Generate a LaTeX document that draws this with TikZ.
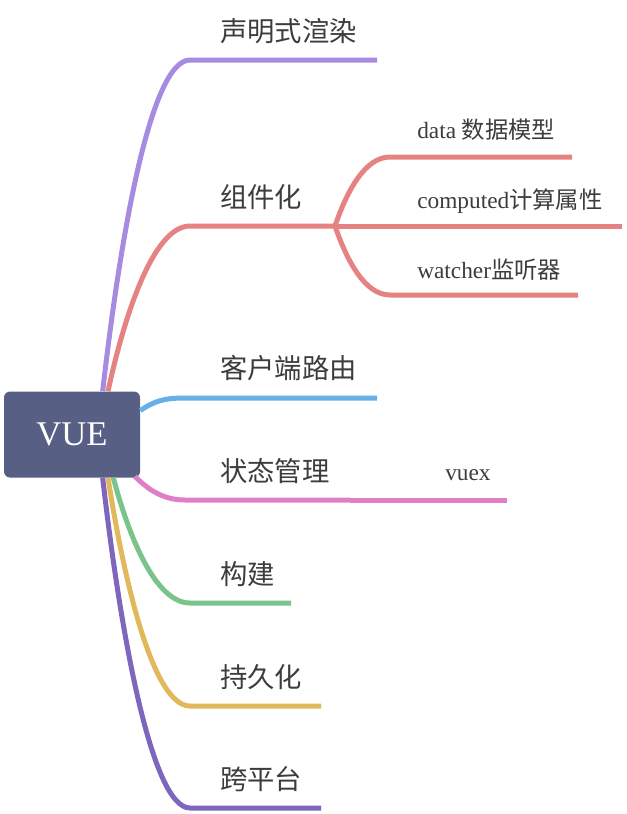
\documentclass[tikz,border=0pt]{standalone}
\usepackage{fontspec}
\setmainfont{Liberation Serif}
\newfontfamily\zh{Noto Sans CJK SC}
\definecolor{rootblue}{RGB}{88,95,132}
\definecolor{txtgray}{RGB}{60,60,60}
\definecolor{cpurple}{RGB}{167,139,224}
\definecolor{cred}{RGB}{229,130,130}
\definecolor{cblue}{RGB}{102,176,230}
\definecolor{cpink}{RGB}{222,128,200}
\definecolor{cgreen}{RGB}{120,196,138}
\definecolor{cyellow}{RGB}{226,184,92}
\definecolor{cviolet}{RGB}{125,102,188}

\begin{document}
\begin{tikzpicture}[x=0.75pt,y=-0.75pt,
        branch/.style={line width=3.75pt},
        topic/.style={anchor=west, inner sep=0pt, text=txtgray, font=\zh\fontsize{20.5}{24}\selectfont},
        subtopic/.style={anchor=west, inner sep=0pt, text=txtgray, font=\fontsize{17.5}{20}\selectfont},
        root/.style={fill=rootblue, rounded corners=4.5pt, minimum width=102pt, minimum height=64.5pt, text=white, font=\fontsize{26}{30}\selectfont}]
        \useasboundingbox (0,0) rectangle (626,814);

        \node[root] (vue) at (72,434.5) {VUE};

        \node[topic] (t1) at (220,31) {声明式渲染};
        \node[topic] (t2) at (220,197) {组件化};
        \node[topic] (t3) at (220,368) {客户端路由};
        \node[topic] (t4) at (220,471) {状态管理};
        \node[topic] (t5) at (220,574) {构建};
        \node[topic] (t6) at (220,677) {持久化};
        \node[topic] (t7) at (220,779) {跨平台};

        \node[subtopic] (s1) at (417,130) {data {\zh 数据模型}};
        \node[subtopic] (s2) at (417,201) {computed{\zh 计算属性}};
        \node[subtopic] (s3) at (417,270) {watcher{\zh 监听器}};
        \node[subtopic] (s4) at (445,475) {vuex};

        \coordinate (b1) at (190,60);  \coordinate (e1) at (377,60);
        \coordinate (b2) at (190,226); \coordinate (k2) at (335,226);
        \coordinate (b3) at (185,398); \coordinate (e3) at (377,398);
        \coordinate (b4) at (185,500); \coordinate (k4) at (350,500);
        \coordinate (b5) at (190,603); \coordinate (e5) at (291,603);
        \coordinate (b6) at (190,706); \coordinate (e6) at (321,706);
        \coordinate (b7) at (190,808); \coordinate (e7) at (321,808);
        \coordinate (c1) at (390,157); \coordinate (f1) at (572,157);
        \coordinate (f2) at (622,226);
        \coordinate (c3) at (390,295); \coordinate (f3) at (578,295);
        \coordinate (f4) at (507,500);

        % branches from the root
        \draw[branch, cpurple] ([xshift=23pt]vue.north) .. controls +(17,-149) and +(-40,0) .. (b1) -- (e1);
        \draw[branch, cred] ([xshift=27pt]vue.north) .. controls +(16,-74) and +(-37,0) .. (b2) -- (k2);
        \draw[branch, cblue] ([yshift=18pt]vue.east) .. controls +(15,-10) and +(-20,0) .. (b3) -- (e3);
        \draw[branch, cpink] ([xshift=-4pt,yshift=1pt]vue.south east) .. controls +(15,15) and +(-20,0) .. (b4) -- (k4);
        \draw[branch, cgreen] ([xshift=31pt]vue.south) .. controls +(15,57) and +(-35,0) .. (b5) -- (e5);
        \draw[branch, cyellow] ([xshift=27pt]vue.south) .. controls +(16,103) and +(-37,0) .. (b6) -- (e6);
        \draw[branch, cviolet] ([xshift=23pt]vue.south) .. controls +(17,149) and +(-39,0) .. (b7) -- (e7);

        % sub branches
        \draw[branch, cred] (k2) .. controls +(12,-35) and +(-25,0) .. (c1) -- (f1);
        \draw[branch, cred] (k2) -- (f2);
        \draw[branch, cred] (k2) .. controls +(12,35) and +(-25,0) .. (c3) -- (f3);
        \draw[branch, cpink] (k4) -- (f4);
\end{tikzpicture}
\end{document}
